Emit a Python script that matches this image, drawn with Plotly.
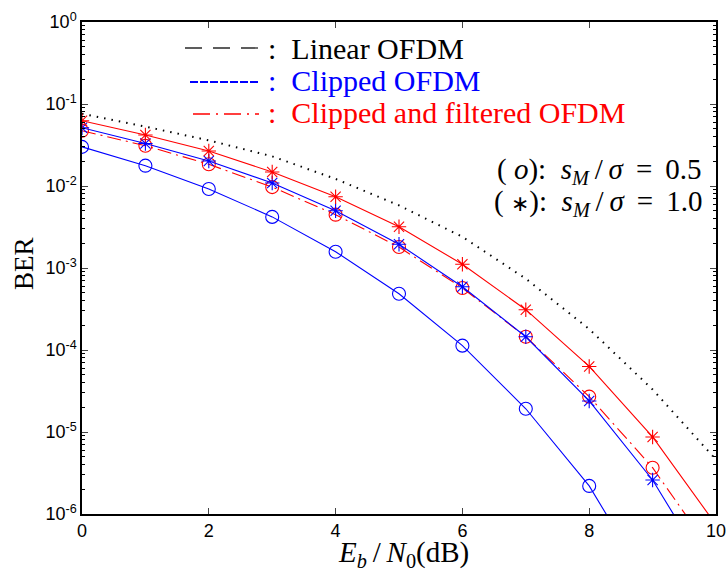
import plotly.graph_objects as go

snr = [0, 1, 2, 3, 4, 5, 6, 7, 8, 9, 10]

ber_linear = [0.076, 0.053, 0.036, 0.023, 0.0122, 0.0058, 0.0024, 7.4e-4, 1.8e-4, 3.3e-5, 4.6e-6]
ber_clip_05 = [0.030, 0.0177, 0.0092, 0.0042, 0.00158, 4.86e-4, 1.13e-4, 1.92e-5, 2.2e-6, 1.2e-7, 6e-9]
ber_clip_10 = [0.0514, 0.033, 0.0202, 0.0109, 0.0050, 0.00195, 5.9e-4, 1.45e-4, 2.39e-5, 2.6e-6, 1.4e-7]
ber_filt_05 = [0.0472, 0.031, 0.0184, 0.0097, 0.00447, 0.0018, 5.7e-4, 1.45e-4, 2.7e-5, 3.67e-6, 2.9e-7]
ber_filt_10 = [0.0626, 0.0419, 0.0267, 0.0148, 0.0074, 0.00319, 0.00111, 3.1e-4, 6.3e-5, 8.7e-6, 7.4e-7]

ytick_vals = [1e-6, 1e-5, 1e-4, 1e-3, 1e-2, 1e-1, 1e0]
ytick_text = ["10<sup>-6</sup>", "10<sup>-5</sup>", "10<sup>-4</sup>", "10<sup>-3</sup>",
              "10<sup>-2</sup>", "10<sup>-1</sup>", "10<sup>0</sup>"]
ymin_vals = [m * d for d in ytick_vals[:-1] for m in range(2, 10)]
xtick_vals = [0, 2, 4, 6, 8, 10]

legend_labels = ["Linear OFDM", "Clipped OFDM", "Clipped and filtered OFDM"]
legend_colors = ["black", "blue", "red"]

BLUE = "rgb(0,0,255)"
RED = "rgb(255,0,0)"
SERIF = "Liberation Serif"

fig = go.Figure()

fig.add_trace(go.Scatter(x=snr, y=ber_linear, mode="lines",
                         line=dict(color="black", width=2.0, dash="1.5px,6px"),
                         showlegend=False))

def curve(y, color, symbol, dash="solid", size=12):
    fig.add_trace(go.Scatter(
        x=snr, y=y, mode="lines+markers",
        line=dict(color=color, width=1.1, dash=dash),
        marker=dict(symbol=symbol, size=size, color=color,
                    line=dict(color=color, width=1.1)),
        showlegend=False, cliponaxis=True))

curve(ber_clip_05, BLUE, "circle-open", size=13)
curve(ber_filt_05, RED, "circle-open", dash="14px,5px,2px,5px", size=13)
curve(ber_clip_10, BLUE, "asterisk-open", size=12)
curve(ber_filt_10, RED, "asterisk-open", size=12)

# legend-like line samples (paper coords)
L, R, T, B = 82, 716, 22, 514
def px(x):
    return (x - L) / (R - L)
def py(y):
    return (B - y) / (B - T)

shapes = [
    dict(type="line", xref="paper", yref="paper", x0=px(185), x1=px(259), y0=py(48), y1=py(48),
         line=dict(color="rgb(40,40,40)", width=1.3, dash="17px,11px")),
    dict(type="line", xref="paper", yref="paper", x0=px(190), x1=px(259), y0=py(82), y1=py(82),
         line=dict(color="blue", width=2.2, dash="8px,2px")),
    dict(type="line", xref="paper", yref="paper", x0=px(193), x1=px(259), y0=py(114), y1=py(114),
         line=dict(color="red", width=1.3, dash="17px,6px,2px,6px")),
]

annotations = []
for lab, col, yy in zip(legend_labels, legend_colors, [48, 81, 113]):
    annotations.append(dict(xref="paper", yref="paper", x=px(266), y=py(yy), xanchor="left",
                            yanchor="middle", showarrow=False,
                            text=":  " + lab, font=dict(family=SERIF, size=30, color=col)))

TS = "\u2009"
annotations += [
    dict(xref="paper", yref="paper", x=px(704), y=py(171), xanchor="right", yanchor="middle",
         showarrow=False,
         text="( <i>o</i>):  <i>s<sub>M</sub></i>" + TS + "/" + TS + "<i>σ</i> " + TS + "= " + TS + "0.5",
         font=dict(family=SERIF, size=29, color="black")),
    dict(xref="paper", yref="paper", x=px(704), y=py(203), xanchor="right", yanchor="middle",
         showarrow=False,
         text="( <span style='font-family:DejaVu Sans;font-size:22px'>∗</span>):  <i>s<sub>M</sub></i>"
              + TS + "/" + TS + "<i>σ</i> " + TS + "= " + TS + "1.0",
         font=dict(family=SERIF, size=29, color="black")),
    dict(xref="paper", yref="paper", x=px(404), y=py(554), xanchor="center", yanchor="middle",
         showarrow=False, text="<i>E<sub>b</sub></i>\u2009/\u2009<i>N</i><sub>0</sub>(dB)",
         font=dict(family=SERIF, size=29, color="black")),
    dict(xref="paper", yref="paper", x=px(24), y=py(264), xanchor="center", yanchor="middle",
         showarrow=False, text="BER", textangle=-90,
         font=dict(family=SERIF, size=27, color="black")),
]

fig.update_layout(
    width=726, height=574,
    margin=dict(l=L, r=726 - R, t=T, b=574 - B, autoexpand=False),
    paper_bgcolor="white", plot_bgcolor="white",
    shapes=shapes, annotations=annotations,
    xaxis=dict(range=[0, 10], tickvals=xtick_vals, ticks="inside", ticklen=6,
               showgrid=False, zeroline=False, showline=True, linecolor="black",
               linewidth=1.5, mirror="ticks", automargin=False, ticklabeloverflow="allow",
               tickfont=dict(family="Liberation Sans", size=18, color="black")),
    yaxis=dict(type="log", range=[-6, 0], tickvals=ytick_vals, ticktext=ytick_text,
               ticks="inside", ticklen=6, showgrid=False, zeroline=False, showline=True,
               linecolor="black", linewidth=1.5, mirror="ticks", automargin=False,
               ticklabeloverflow="allow",
               minor=dict(ticks="inside", ticklen=3.5, tickmode="array", tickvals=ymin_vals,
                          showgrid=False, tickcolor="black"),
               tickfont=dict(family="Liberation Sans", size=18, color="black")),
)

fig.write_html("out.html")
